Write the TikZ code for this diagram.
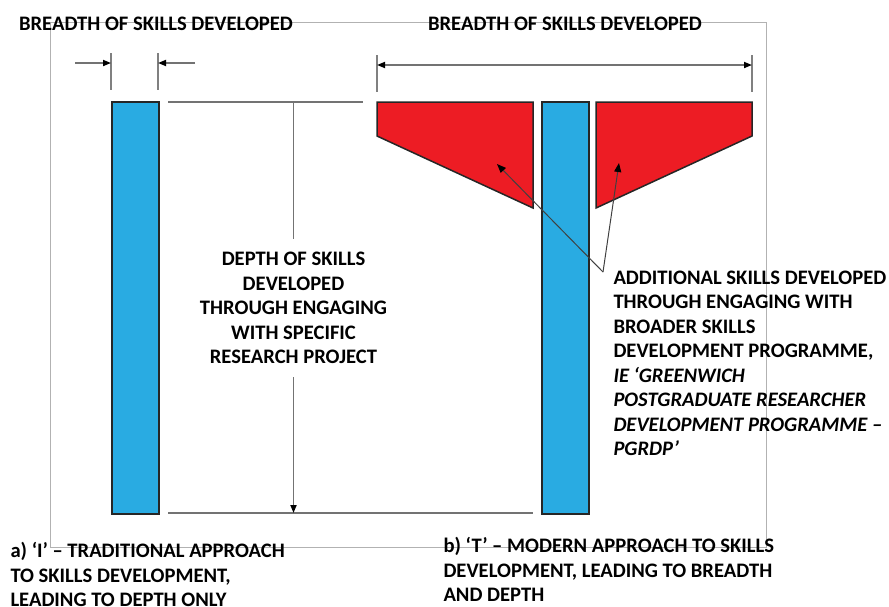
\documentclass[tikz,border=0pt]{standalone}
\usepackage{fontspec}
\setmainfont{Carlito}
\usetikzlibrary{arrows.meta,positioning}
\definecolor{skillblue}{RGB}{41,171,226}
\definecolor{skillred}{RGB}{237,28,36}
\tikzset{
every picture/.style={
line width=1pt
},
bar/.style={draw=black!85, fill=skillblue, line width=1.5pt, inner sep=0pt, minimum width=47pt, minimum height=412pt, anchor=north west},
wing/.style={draw=black!85, fill=skillred, line width=1.5pt},
dimline/.style={draw=black!55, line width=1.7pt},
tickline/.style={draw=black!50, line width=1.4pt},
ptr/.style={draw=black!75, line width=1pt, -{Triangle[length=9pt,width=7pt,black]}},
dimtip/.style={-{Triangle[length=8pt,width=6pt,black]}},
lbl/.style={font=\bfseries\fontsize{20.6}{24.5}\selectfont, inner sep=0pt}
}

\begin{document}
\begin{tikzpicture}[x=1pt, y=-1pt]
      \useasboundingbox (0,0) rectangle (889,606);
      \draw [black!30, line width=0.8pt] (50,22) rectangle (766,547);
      % the two bars
      \node [bar] (barI) at (111,101) {};
      \node [bar] (barT) at (541,101) {};
      \draw [wing] (377,102) -- (533,102) -- (533,208) -- (377,136) -- cycle;
      \draw [wing] (596,102) -- (752,102) -- (752,136) -- (596,208) -- cycle;
      % breadth marks
      \node [lbl] (breadthI) at (156,24) {BREADTH OF SKILLS DEVELOPED};
      \node [lbl] (breadthT) at (565,24) {BREADTH OF SKILLS DEVELOPED};
      \draw [tickline] (111,53) -- (111,90);
      \draw [tickline] (158,53) -- (158,90);
      \draw [tickline] (377,55) -- (377,92);
      \draw [tickline] (752,55) -- (752,92);
      \coordinate (inL) at (75,63);
      \coordinate (inLend) at (111,63);
      \coordinate (inR) at (195,63);
      \coordinate (inRend) at (158,63);
      \draw [dimline, dimtip] (inL) -- (inLend);
      \draw [dimline, dimtip] (inR) -- (inRend);
      \coordinate (wideL) at (377,65);
      \coordinate (wideR) at (752,65);
      \draw [dimline, {Triangle[length=8pt,width=6pt,black]}-{Triangle[length=8pt,width=6pt,black]}] (wideL) -- (wideR);
      % depth
      \coordinate (dtopL) at (168,102);
      \coordinate (dtopR) at (363,102);
      \coordinate (dbotL) at (168,513);
      \coordinate (dbotR) at (533,513);
      \coordinate (dtop) at (293.5,102);
      \coordinate (dbot) at (293.5,513);
      \draw [dimline] (dtopL) -- (dtopR);
      \draw [dimline] (dbotL) -- (dbotR);
      \node [lbl, align=center, inner ysep=13pt] (depth) at (293.5,308)
      {DEPTH OF SKILLS\\DEVELOPED\\THROUGH ENGAGING\\WITH SPECIFIC\\RESEARCH PROJECT};
      \draw [dimline] (dtop) -- (depth.north);
      \draw [dimline, dimtip] (depth.south) -- (dbot);
      % additional skills
      \node [lbl, align=left, anchor=north west] (extra) at (613,270)
      {ADDITIONAL SKILLS DEVELOPED\\THROUGH ENGAGING WITH\\BROADER SKILLS\\DEVELOPMENT PROGRAMME,\\
      \textit{IE ‘GREENWICH}\\\textit{POSTGRADUATE RESEARCHER}\\\textit{DEVELOPMENT PROGRAMME –}\\\textit{PGRDP’}};
      \coordinate (hub) at (603,272);
      \coordinate (tipL) at (497,164);
      \coordinate (tipR) at (619,163);
      \draw [ptr] (hub) -- (tipL);
      \draw [ptr] (hub) -- (tipR);
      % captions
      \node [lbl, align=left, anchor=north west] (capI) at (10,542)
      {a) ‘I’ – TRADITIONAL APPROACH\\TO SKILLS DEVELOPMENT,\\LEADING TO DEPTH ONLY};
      \node [lbl, align=left, anchor=north west] (capT) at (443,537)
      {b) ‘T’ – MODERN APPROACH TO SKILLS\\DEVELOPMENT, LEADING TO BREADTH\\AND DEPTH};
\end{tikzpicture}
\end{document}
